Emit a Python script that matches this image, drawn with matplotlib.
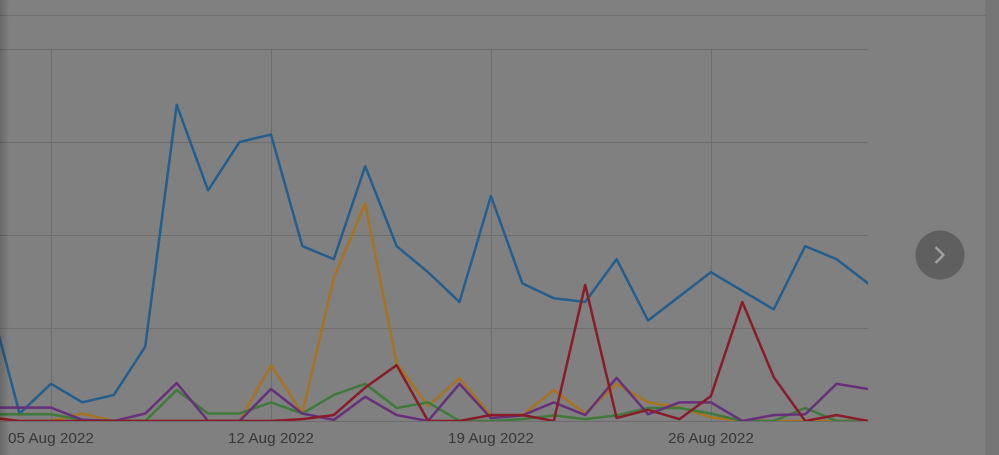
import datetime as dt
import numpy as np
import matplotlib
matplotlib.use("Agg")
import matplotlib.pyplot as plt
import matplotlib.dates as mdates
from matplotlib.patches import Circle, Rectangle
from matplotlib.lines import Line2D

# daily values, 03 Aug 2022 .. 31 Aug 2022
start = dt.date(2022, 8, 3)
dates = [start + dt.timedelta(days=i) for i in range(29)]

blue = [34, 2, 10, 5, 7, 20, 85, 62, 75, 77, 47, 43.5, 68.5, 47, 40, 32,
        60.5, 37, 33, 32, 43.5, 27, 33.5, 40, 35, 30, 47, 43.5, 37]
orange = [1, 0, 0, 2, 0, 0, 0, 0, 0, 15, 2, 38.5, 58.5, 15.5, 4, 11.5,
          1.5, 1.5, 8.3, 2, 10, 5, 3.7, 1, 0, 0, 0, 0, 0]
green = [1.8, 1.8, 1.8, 0.3, 0, 0, 8.3, 2, 2, 5, 2, 7, 10, 3.5, 5, 0,
         0, 0.5, 1.5, 0.5, 1.5, 3.5, 3.5, 2, 0, 0, 3.5, 0, 0]
purple = [3.6, 3.6, 3.6, 0.3, 0, 2, 10.2, 0, 0, 8.6, 2, 0.3, 6.5, 1.6, 0, 10,
          0.8, 1.5, 5, 1.6, 11.6, 1.8, 5, 5, 0, 1.6, 1.8, 10, 8.6]
red = [1, 0, 0, 0, 0, 0, 0, 0, 0, 0, 0.5, 1.6, 9, 15, 0, 0,
       1.6, 1.6, 0, 36.6, 0.8, 3, 0.5, 6.7, 32, 11.8, 0, 1.6, 0]

week_ticks = [dt.date(2022, 8, d) for d in (5, 12, 19, 26)]

series = [(blue, "#245e8e"), (orange, "#a8731e"), (green, "#3f7a3c"),
          (purple, "#66307a"), (red, "#8a1c2a")]

W, H = 999, 455
fig = plt.figure(figsize=(W / 100, H / 100), dpi=100)
fig.patch.set_facecolor("#808080")

# plot area: x from 0 to 868 px, y from 49 to 421 px
ax = fig.add_axes([0, (H - 421) / H, 868 / W, (421 - 49) / H])
ax.set_facecolor("#808080")

for vals, col in series:
    ax.plot(dates, vals, color=col, lw=1.8, zorder=3)

left = mdates.date2num(dt.datetime(2022, 8, 5)) - 51 / (220 / 7)
ax.set_xlim(left, mdates.date2num(dt.datetime(2022, 8, 31)))
ax.set_ylim(0, 100)

ax.set_xticks(week_ticks)
ax.xaxis.set_major_formatter(mdates.DateFormatter("%d %b %Y"))
ax.set_yticks([0, 25, 50, 75, 100])
ax.set_yticklabels([])
ax.grid(True, color="#6e6e6e", lw=0.8, zorder=0)
ax.tick_params(axis="x", length=0, pad=8, labelsize=11, labelcolor="#383838")
ax.tick_params(axis="y", length=0)
for s in ("top", "right", "left"):
    ax.spines[s].set_visible(False)
ax.spines["bottom"].set_color("#6e6e6e")
ax.spines["bottom"].set_linewidth(0.8)
for lab in ax.get_xticklabels():
    lab.set_fontfamily(["Liberation Sans", "DejaVu Sans"])

# header separator line and right panel edge
fig.add_artist(Line2D([0, 985 / W], [(H - 15) / H] * 2, color="#6e6e6e", lw=0.8))
fig.add_artist(Rectangle((985 / W, 0), 14 / W, 1, transform=fig.transFigure,
                         facecolor="#767676", edgecolor="none"))

# next button
fig.add_artist(Circle((9.40, (H - 255) / 100), 0.245, transform=fig.dpi_scale_trans,
                      facecolor="#5f5f5f", edgecolor="none"))
fig.add_artist(Line2D([9.365, 9.435, 9.365],
                      [(H - 248) / 100, (H - 255) / 100, (H - 262) / 100],
                      transform=fig.dpi_scale_trans, color="#a0a0a0", lw=1.8))

# soft shadow at the left edge
shade = fig.add_axes([0, 0, 9 / W, 1], zorder=10)
grad = np.zeros((1, 32, 4))
grad[..., 3] = np.linspace(0.18, 0.0, 32)
shade.imshow(grad, aspect="auto", extent=[0, 1, 0, 1])
shade.axis("off")

fig.savefig("out.png", dpi=100, facecolor=fig.get_facecolor())
